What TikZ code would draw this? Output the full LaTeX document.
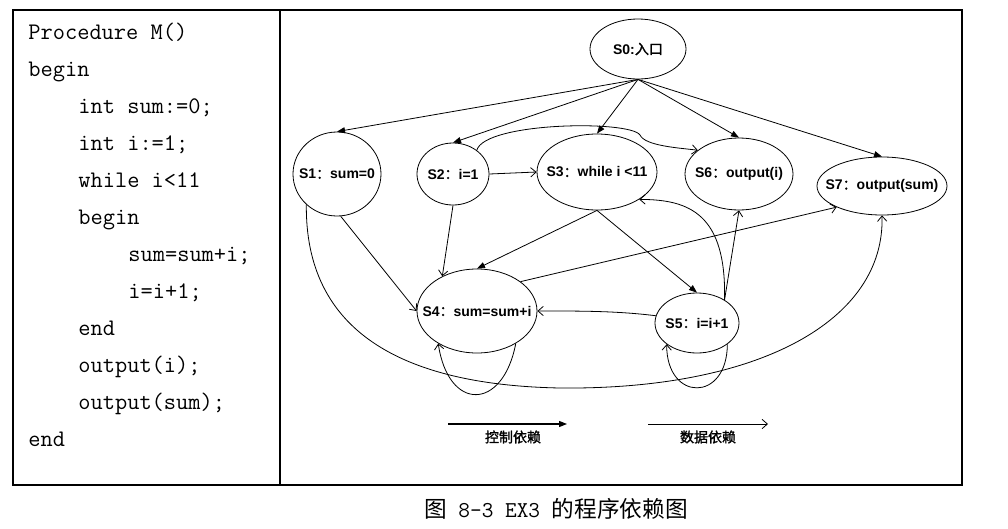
\documentclass[tikz,border=0pt]{standalone}
\usepackage{fontspec}
\setmainfont{Liberation Sans}
\newfontfamily\cjk[AutoFakeBold=1.5]{Noto Sans CJK SC}
\usetikzlibrary{shapes.geometric}
\usetikzlibrary{arrows.meta}

\begin{document}
\begin{tikzpicture}[x=0.75pt,y=-0.75pt,line width=0.6pt,
frame/.style={line width=2pt},
stmt/.style={draw,ellipse,inner sep=0pt,line width=0.6pt},
ctrl/.style={-{Triangle[length=6pt,width=4.5pt]}},
dataflow/.style={-{Straight Barb[length=4pt,width=7pt]}},
every label/.style={font=\bfseries\fontsize{10.5}{12}\selectfont},
codeline/.style={anchor=base west,inner sep=0pt,font=\ttfamily\fontsize{17.8}{20}\selectfont},
legend/.style={inner sep=0pt,font=\cjk\bfseries\fontsize{10.5}{12}\selectfont}]

\useasboundingbox (0,0) rectangle (1008,529);
\draw[frame] (13,10) rectangle (280,485);
\draw[frame] (280,10) rectangle (962,485);

% program text
\foreach \ind/\txt [count=\k from 0] in {0/{Procedure M()},0/begin,1/{int sum:=0;},1/{int i:=1;},1/{while i<11},1/begin,2/{sum=sum+i;},2/{i=i+1;},1/end,1/{output(i);},1/{output(sum);},0/end}
  \node[codeline] (code\k) at (28+50*\ind,39+37*\k) {\txt};

% statements
\node[stmt,minimum width=72pt,minimum height=45pt,label={center:{S0:{\cjk 入口}}}] (S0) at (638,49) {};
\node[stmt,minimum width=66pt,minimum height=63pt,label={center:{S1{\cjk ：}sum=0}}] (S1) at (337,174) {};
\node[stmt,minimum width=54pt,minimum height=46.5pt,label={center:{S2{\cjk ：}i=1}}] (S2) at (453,174) {};
\node[stmt,minimum width=90pt,minimum height=57pt,label={center:{S3{\cjk ：}while i <11}}] (S3) at (597,172) {};
\node[stmt,minimum width=81pt,minimum height=54pt,label={center:{S6{\cjk ：}output(i)}}] (S6) at (739,174) {};
\node[stmt,minimum width=97.5pt,minimum height=43.5pt,label={center:{S7{\cjk ：}output(sum)}}] (S7) at (882,186) {};
\node[stmt,minimum width=90pt,minimum height=63pt,label={center:{S4{\cjk ：}sum=sum+i}}] (S4) at (477,311) {};
\node[stmt,minimum width=63pt,minimum height=45pt,label={center:{S5{\cjk ：}i=i+1}}] (S5) at (697,323) {};

% control dependence
\draw[ctrl] (S0.south) -- (S1.north);
\draw[ctrl] (S0.south) -- (S2.north);
\draw[ctrl] (S0.south) -- (S3.north);
\draw[ctrl] (S0.south) -- (S6.north);
\draw[ctrl] (S0.south) -- (S7.north);
\draw[ctrl] (S3.south) -- (S4.north);
\draw[ctrl] (S3.south) -- (S5.north);

% data dependence
\coordinate (dip) at (640,135);
\coordinate (low) at (560,388);
\draw[dataflow] (S2.east) -- (S3.west);
\draw[dataflow] (S2.45) .. controls (485,122) and (630,120) .. (dip) .. controls (645,146) and (680,148) .. (S6.150);
\draw[dataflow] (S1.-85) -- (S4.west);
\draw[dataflow] (S2.south) -- (S4.135);
\draw[dataflow] (S4.34) -- (S7.205);
\draw[dataflow] (S5.170) .. controls +(-40,-5) and +(40,0) .. (S4.east);
\draw[dataflow] (S5.40) .. controls +(2,-86) and +(50,0) .. (S3.-33);
\draw[dataflow] (S5.40) -- (S6.south);
\draw[dataflow] (S4.-40) .. controls +(-13,68) and +(10,68) .. (S4.-140);
\draw[dataflow] (S5.-35) .. controls +(0,58) and +(0,58) .. (S5.-145);
\draw[dataflow] (S1.-135) .. controls (305,330) and (400,385) .. (low) .. controls (760,390) and (885,320) .. (S7.south);

% legend
\coordinate (ctrlA) at (448,424);
\coordinate (ctrlB) at (567,424);
\coordinate (dataA) at (648,424);
\coordinate (dataB) at (768,424);
\draw[ctrl,line width=0.9pt] (ctrlA) -- (ctrlB);
\draw[dataflow] (dataA) -- (dataB);
\node[legend] (ctrltxt) at (513,437) {控制依赖};
\node[legend] (datatxt) at (708,437) {数据依赖};

\node[font=\ttfamily\fontsize{17}{20}\selectfont] (caption) at (556,509) {{\cjk 图} 8-3 EX3 {\cjk 的程序依赖图}};
\end{tikzpicture}
\end{document}
